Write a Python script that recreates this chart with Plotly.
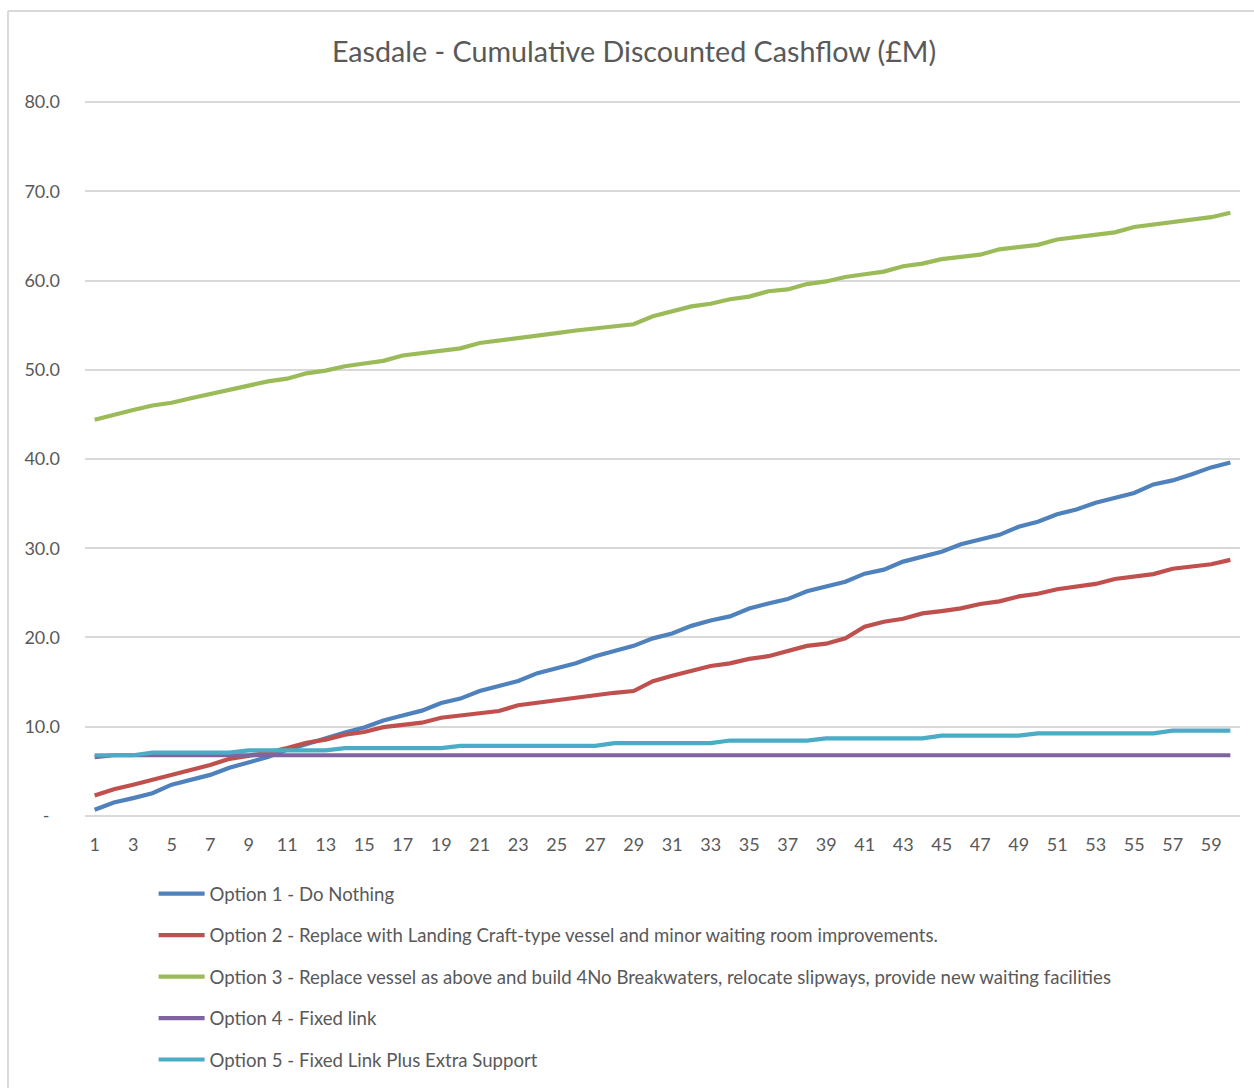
import plotly.graph_objects as go

# Years of the appraisal period
years = list(range(1, 61))

# Cumulative discounted cashflow (£M) per option
option1 = [0.7, 1.5, 2.0, 2.55, 3.5, 4.05, 4.6, 5.4, 6.0, 6.6,
           7.4, 8.05, 8.75, 9.35, 9.9, 10.7, 11.25, 11.8, 12.65, 13.15,
           14.0, 14.57, 15.13, 16.0, 16.5, 17.1, 17.9, 18.5, 19.06, 19.9,
           20.45, 21.3, 21.9, 22.36, 23.25, 23.8, 24.3, 25.17, 25.7, 26.25,
           27.15, 27.6, 28.5, 29.0, 29.6, 30.45, 31.0, 31.5, 32.4, 32.96,
           33.8, 34.35, 35.1, 35.65, 36.2, 37.15, 37.6, 38.3, 39.06, 39.6]

option2 = [2.3, 3.0, 3.5, 4.05, 4.7, 5.2, 5.7, 6.4, 6.75, 7.1,
           7.6, 8.2, 8.55, 9.1, 9.4, 9.95, 10.2, 10.45, 11.0, 11.25,
           11.5, 11.76, 12.4, 12.7, 12.96, 13.26, 13.5, 13.8, 14.0, 15.1,
           15.7, 16.25, 16.8, 17.1, 17.6, 17.9, 18.5, 19.06, 19.3, 19.9,
           21.2, 21.76, 22.1, 22.7, 22.96, 23.26, 23.75, 24.05, 24.6, 24.9,
           25.4, 25.7, 26.0, 26.55, 26.8, 27.1, 27.7, 27.9, 28.2, 28.7]

option3 = [44.4, 45.0, 45.5, 46.0, 46.3, 46.8, 47.3, 47.7, 48.2, 48.7,
           49.0, 49.6, 49.9, 50.4, 50.7, 51.0, 51.6, 51.9, 52.1, 52.4,
           53.0, 53.25, 53.5, 53.8, 54.1, 54.4, 54.6, 54.9, 55.1, 56.0,
           56.5, 57.1, 57.4, 57.9, 58.2, 58.8, 59.0, 59.6, 59.9, 60.4,
           60.7, 61.0, 61.6, 61.9, 62.4, 62.65, 62.9, 63.5, 63.75, 64.0,
           64.6, 64.85, 65.1, 65.4, 66.0, 66.25, 66.5, 66.8, 67.1, 67.6]

option4 = [6.6] + [6.8] * 59

option5 = ([6.8] * 3 + [7.1] * 5 + [7.35] * 5 + [7.6] * 6 + [7.85] * 8 +
           [8.15] * 6 + [8.45] * 5 + [8.7] * 6 + [9.0] * 5 + [9.25] * 7 +
           [9.55] * 4)

series_names = [
    "Option 1 - Do Nothing",
    "Option 2 - Replace with Landing Craft-type vessel and minor waiting room improvements.",
    "Option 3 - Replace vessel as above and build 4No Breakwaters, relocate slipways, provide new waiting facilities",
    "Option 4 - Fixed link",
    "Option 5 - Fixed Link Plus Extra Support",
]
series_values = [option1, option2, option3, option4, option5]
series_colors = ["#4F81BD", "#C0504D", "#9BBB59", "#8064A2", "#4BACC6"]

x_tick_vals = list(range(1, 60, 2))
y_tick_vals = list(range(0, 81, 10))
y_tick_text = ["-\u2007"] + [f"{v:.1f}" for v in y_tick_vals[1:]]

FONT = "Lato"
GREY = "#595959"

fig = go.Figure()
for i, (name, vals, col) in enumerate(zip(series_names, series_values, series_colors)):
    fig.add_trace(go.Scatter(
        x=years, y=vals, name=name, mode="lines",
        line=dict(color=col, width=4.2),
        legendgroup=f"g{i}",
    ))

fig.update_layout(
    width=1254, height=1088,
    margin=dict(l=85, r=14, t=101, b=271, autoexpand=False),
    paper_bgcolor="white", plot_bgcolor="white",
    title=dict(text="Easdale - Cumulative Discounted Cashflow (£M)",
               x=634 / 1254, xref="container", xanchor="center",
               y=1 - 52 / 1088, yanchor="middle",
               font=dict(family=FONT, size=28.7, color=GREY)),
    font=dict(family=FONT, color=GREY),
    showlegend=True,
    legend=dict(orientation="v", x=0.0594, xanchor="left",
                y=-0.081, yanchor="top",
                font=dict(family=FONT, size=18.6, color=GREY),
                tracegroupgap=14.3, itemwidth=46,
                bgcolor="rgba(0,0,0,0)"),
    shapes=[
        # chart frame (left and top edges)
        dict(type="line", xref="paper", yref="paper",
             x0=-0.0667, x1=-0.0667, y0=-0.40, y1=1.1257,
             line=dict(color="#D9D9D9", width=2)),
        dict(type="line", xref="paper", yref="paper",
             x0=-0.0667, x1=1.02, y0=1.1257, y1=1.1257,
             line=dict(color="#D9D9D9", width=2)),
    ],
)

fig.update_xaxes(
    range=[0.5, 60.5], tickmode="array", tickvals=x_tick_vals,
    showgrid=False, zeroline=False, showline=False,
    ticks="", ticklabelstandoff=15,
    tickfont=dict(family=FONT, size=18, color=GREY),
)
fig.update_yaxes(
    range=[-0.12, 80.12], tickmode="array", tickvals=y_tick_vals, ticktext=y_tick_text,
    showgrid=True, gridcolor="#D9D9D9", gridwidth=1.6,
    zeroline=False, showline=False, ticks="", ticklabelstandoff=24,
    tickfont=dict(family=FONT, size=18, color=GREY),
)

fig.write_html("out.html")
